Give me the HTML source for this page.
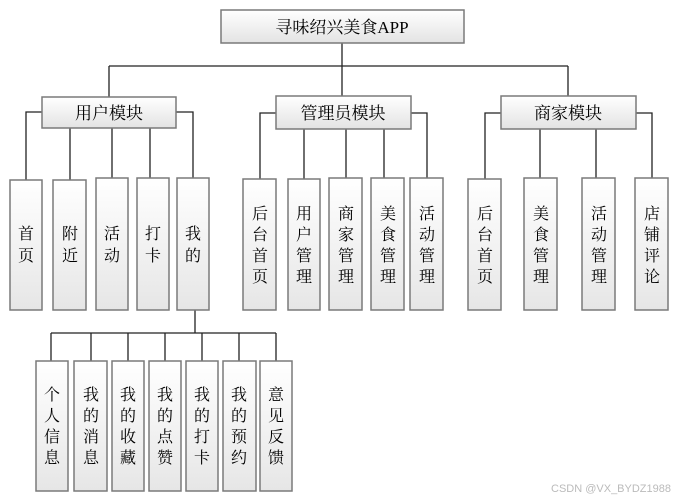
<!DOCTYPE html>
<html><head><meta charset="utf-8"><style>
html,body{margin:0;padding:0;background:#fff;}
svg{display:block;}
text{font-family:"Liberation Serif","Noto Serif CJK SC","Noto Sans CJK SC",serif;fill:#000;}
.v{font-size:16px;text-anchor:middle;}
.h{font-size:17px;text-anchor:middle;}
</style></head><body>
<svg width="681" height="502" viewBox="0 0 681 502" xmlns="http://www.w3.org/2000/svg">
<defs>
<linearGradient id="g" x1="0" y1="0" x2="0" y2="1"><stop offset="0" stop-color="#ffffff"/><stop offset="1" stop-color="#e6e6e6"/></linearGradient>
<linearGradient id="gh" x1="0" y1="0" x2="0" y2="1"><stop offset="0" stop-color="#ffffff"/><stop offset="1" stop-color="#e3e3e3"/></linearGradient>
</defs>
<g stroke="#222" stroke-width="1.3" fill="none">
<path d="M342 43V66M109 66H568M109 66V97M342 66V96M568 66V96"/>
<path d="M42 112H26V180M70 128V180M112 128V178M150 128V178M176 112H193V178"/>
<path d="M276 113H260V179M304 129V179M346 129V178M384 129V178M411 113H427V178"/>
<path d="M501 113H485V179M540 129V179M596 129V178M636 113H652V178"/>
<path d="M195 310V333M51 333H276M51 333V361M91 333V361M128 333V361M165 333V361M202 333V361M239 333V361M276 333V361"/>
</g>
<g stroke="#7a7a7a" stroke-width="1.5" fill="url(#g)">
<rect x="221" y="10" width="243" height="33" fill="url(#gh)"/>
<rect x="42" y="97" width="134" height="31" fill="url(#gh)"/>
<rect x="276" y="96" width="135" height="33" fill="url(#gh)"/>
<rect x="501" y="96" width="135" height="33" fill="url(#gh)"/>
<rect x="10" y="180" width="32" height="130"/>
<rect x="53" y="180" width="33" height="130"/>
<rect x="96" y="178" width="32" height="132"/>
<rect x="137" y="178" width="32" height="132"/>
<rect x="177" y="178" width="32" height="132"/>
<rect x="243" y="179" width="33" height="131"/>
<rect x="288" y="179" width="32" height="131"/>
<rect x="329" y="178" width="33" height="132"/>
<rect x="371" y="178" width="33" height="132"/>
<rect x="410" y="178" width="33" height="132"/>
<rect x="468" y="179" width="33" height="131"/>
<rect x="524" y="178" width="33" height="132"/>
<rect x="582" y="178" width="33" height="132"/>
<rect x="635" y="178" width="33" height="132"/>
<rect x="36" y="361" width="32" height="130"/>
<rect x="74" y="361" width="33" height="130"/>
<rect x="112" y="361" width="32" height="130"/>
<rect x="149" y="361" width="32" height="130"/>
<rect x="186" y="361" width="32" height="130"/>
<rect x="223" y="361" width="33" height="130"/>
<rect x="260" y="361" width="32" height="130"/>
</g>
<text class="h" x="342" y="33">寻味绍兴美食APP</text>
<text class="h" x="109" y="119">用户模块</text>
<text class="h" x="343" y="119">管理员模块</text>
<text class="h" x="568" y="119">商家模块</text>
<g class="v">
<text x="26" y="239">首</text><text x="26" y="261">页</text>
<text x="70" y="239">附</text><text x="70" y="261">近</text>
<text x="112" y="239">活</text><text x="112" y="261">动</text>
<text x="153" y="239">打</text><text x="153" y="261">卡</text>
<text x="193" y="239">我</text><text x="193" y="261">的</text>

<text x="260" y="219">后</text><text x="260" y="240">台</text><text x="260" y="261">首</text><text x="260" y="282">页</text>
<text x="304" y="219">用</text><text x="304" y="240">户</text><text x="304" y="261">管</text><text x="304" y="282">理</text>
<text x="346" y="219">商</text><text x="346" y="240">家</text><text x="346" y="261">管</text><text x="346" y="282">理</text>
<text x="388" y="219">美</text><text x="388" y="240">食</text><text x="388" y="261">管</text><text x="388" y="282">理</text>
<text x="427" y="219">活</text><text x="427" y="240">动</text><text x="427" y="261">管</text><text x="427" y="282">理</text>

<text x="485" y="219">后</text><text x="485" y="240">台</text><text x="485" y="261">首</text><text x="485" y="282">页</text>
<text x="541" y="219">美</text><text x="541" y="240">食</text><text x="541" y="261">管</text><text x="541" y="282">理</text>
<text x="599" y="219">活</text><text x="599" y="240">动</text><text x="599" y="261">管</text><text x="599" y="282">理</text>
<text x="652" y="219">店</text><text x="652" y="240">铺</text><text x="652" y="261">评</text><text x="652" y="282">论</text>

<text x="52" y="400">个</text><text x="52" y="421">人</text><text x="52" y="442">信</text><text x="52" y="463">息</text>
<text x="91" y="400">我</text><text x="91" y="421">的</text><text x="91" y="442">消</text><text x="91" y="463">息</text>
<text x="128" y="400">我</text><text x="128" y="421">的</text><text x="128" y="442">收</text><text x="128" y="463">藏</text>
<text x="165" y="400">我</text><text x="165" y="421">的</text><text x="165" y="442">点</text><text x="165" y="463">赞</text>
<text x="202" y="400">我</text><text x="202" y="421">的</text><text x="202" y="442">打</text><text x="202" y="463">卡</text>
<text x="239" y="400">我</text><text x="239" y="421">的</text><text x="239" y="442">预</text><text x="239" y="463">约</text>
<text x="276" y="400">意</text><text x="276" y="421">见</text><text x="276" y="442">反</text><text x="276" y="463">馈</text>
</g>
<text x="671" y="492" text-anchor="end" style="font-family:'Liberation Sans',sans-serif;font-size:11px;fill:#bbb;">CSDN @VX_BYDZ1988</text>
</svg>
</body></html>
